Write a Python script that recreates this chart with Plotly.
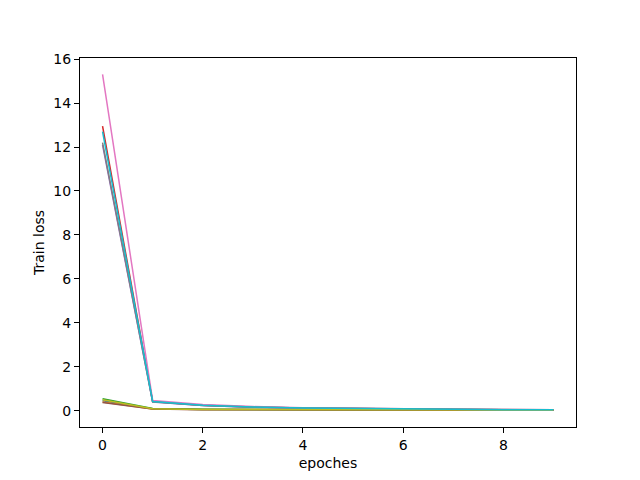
import plotly.graph_objects as go

epochs = list(range(10))
series_names = ["run0", "run1", "run2", "run3", "run4", "run5", "run6", "run7", "run8", "run9"]
colors = ["#1f77b4", "#ff7f0e", "#2ca02c", "#d62728", "#9467bd",
          "#8c564b", "#e377c2", "#7f7f7f", "#bcbd22", "#17becf"]

loss_run0 = [0.45, 0.09, 0.06, 0.05, 0.04, 0.04, 0.03, 0.03, 0.03, 0.02]
loss_run1 = [0.40, 0.08, 0.06, 0.05, 0.04, 0.03, 0.03, 0.03, 0.02, 0.02]
loss_run2 = [0.55, 0.10, 0.07, 0.05, 0.05, 0.04, 0.04, 0.03, 0.03, 0.03]
loss_run3 = [12.95, 0.42, 0.25, 0.17, 0.13, 0.10, 0.08, 0.06, 0.05, 0.04]
loss_run4 = [12.10, 0.40, 0.24, 0.16, 0.12, 0.09, 0.07, 0.06, 0.05, 0.04]
loss_run5 = [0.38, 0.08, 0.05, 0.04, 0.04, 0.03, 0.03, 0.02, 0.02, 0.02]
loss_run6 = [15.30, 0.47, 0.28, 0.19, 0.14, 0.11, 0.09, 0.07, 0.06, 0.05]
loss_run7 = [12.20, 0.41, 0.24, 0.16, 0.12, 0.10, 0.08, 0.06, 0.05, 0.04]
loss_run8 = [0.50, 0.09, 0.06, 0.05, 0.04, 0.04, 0.03, 0.03, 0.03, 0.03]
loss_run9 = [12.70, 0.42, 0.25, 0.17, 0.13, 0.10, 0.08, 0.07, 0.05, 0.04]

all_losses = [loss_run0, loss_run1, loss_run2, loss_run3, loss_run4,
              loss_run5, loss_run6, loss_run7, loss_run8, loss_run9]

fig = go.Figure()
for name, ys, c in zip(series_names, all_losses, colors):
    fig.add_trace(go.Scatter(x=epochs, y=ys, mode="lines", name=name,
                             line=dict(color=c, width=1.5)))

axis_common = dict(showline=True, linecolor="black", linewidth=1, mirror=True,
                   ticks="outside", ticklen=5, tickwidth=1, tickcolor="black",
                   showgrid=False, zeroline=False,
                   tickfont=dict(family="DejaVu Sans", size=14, color="black"),
                   title_font=dict(family="DejaVu Sans", size=14, color="black"))

fig.update_layout(
    width=640, height=480,
    margin=dict(l=72, r=72, t=50, b=61),
    paper_bgcolor="white", plot_bgcolor="white",
    showlegend=False,
    xaxis=dict(range=[-0.45, 9.45], tickvals=[0, 2, 4, 6, 8],
               title=dict(text="epoches", standoff=6), **axis_common),
    yaxis=dict(range=[-0.74, 16.05], tickvals=[0, 2, 4, 6, 8, 10, 12, 14, 16],
               title=dict(text="Train loss", standoff=5), **axis_common),
)

fig.write_html("out.html")
